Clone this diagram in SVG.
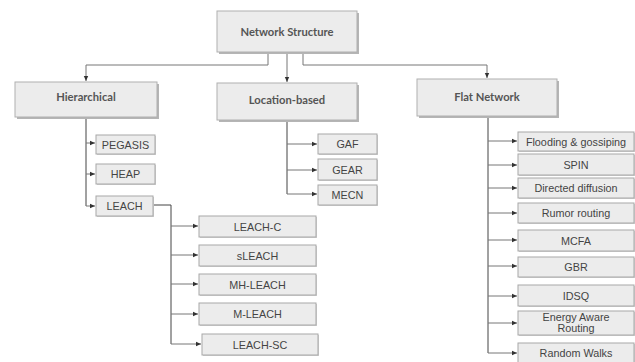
<svg xmlns="http://www.w3.org/2000/svg" width="635" height="362" viewBox="0 0 635 362">
<defs>
<marker id="arr" markerWidth="6" markerHeight="6" refX="5" refY="3" orient="auto" markerUnits="userSpaceOnUse">
<path d="M0,0.8 L5,3 L0,5.2 Z" fill="#333"/>
</marker>
</defs>
<style>
.big rect.sh{fill:#b5b5b5}
.big rect.bx{fill:#ececec;stroke:#b0b0b0;stroke-width:1}
.big text{font-family:Lato,"Open Sans",sans-serif;font-weight:bold;font-size:11.2px;fill:#555;text-anchor:middle}
.sm rect.sh{fill:#d0d0d0}
.sm rect.bx{fill:#ececec;stroke:#a8a8a8;stroke-width:1}
.sm text{font-family:"Liberation Sans",Arial,sans-serif;font-size:10.8px;fill:#444;text-anchor:middle}
.c path{fill:none;stroke:#777;stroke-width:1}
.c path.a{marker-end:url(#arr)}
.c path.d{stroke:#444}
</style>
<rect width="635" height="362" fill="#ffffff"/>

<g class="c" id="connectors">
<path class="a" d="M268,52 V65 H86 V81"/>
<path class="a" d="M287,52 V82"/>
<path class="a" d="M303,52 V65 H487 V78"/>
<path class="d" d="M86,117 V206"/>
<path class="a" d="M86,143 H95"/>
<path class="a" d="M86,174 H95"/>
<path class="a" d="M86,206 H95"/>
<path class="d" d="M153,205 H171 V344"/>
<path class="a" d="M171,226 H198"/>
<path class="a" d="M171,255 H198"/>
<path class="a" d="M171,284 H198"/>
<path class="a" d="M171,314 H198"/>
<path class="a" d="M171,344 H201"/>
<path class="d" d="M287,120 V194"/>
<path class="a" d="M287,144 H317"/>
<path class="a" d="M287,170 H317"/>
<path class="a" d="M287,194 H317"/>
<path class="d" d="M488,116 V353"/>
<path class="a" d="M488,141 H517"/>
<path class="a" d="M488,165 H517"/>
<path class="a" d="M488,188 H517"/>
<path class="a" d="M488,213 H517"/>
<path class="a" d="M488,240 H517"/>
<path class="a" d="M488,266 H517"/>
<path class="a" d="M488,296 H517"/>
<path class="a" d="M488,323 H517"/>
<path class="a" d="M488,353 H517"/>
</g>

<g class="big" id="n-network-structure"><rect class="sh" x="219" y="13" width="140" height="41"/><rect class="bx" x="217" y="11" width="140" height="41"/><text x="287" y="36">Network Structure</text></g>
<g class="big" id="n-hierarchical"><rect class="sh" x="17" y="84" width="142" height="35"/><rect class="bx" x="15" y="82" width="142" height="35"/><text x="86" y="101">Hierarchical</text></g>
<g class="big" id="n-location"><rect class="sh" x="219" y="85" width="140" height="37"/><rect class="bx" x="217" y="83" width="140" height="37"/><text x="287" y="104">Location-based</text></g>
<g class="big" id="n-flat"><rect class="sh" x="419" y="81" width="140" height="37"/><rect class="bx" x="417" y="79" width="140" height="37"/><text x="487" y="101">Flat Network</text></g>

<g class="sm" id="n-pegasis"><rect class="sh" x="97" y="136" width="59" height="19"/><rect class="bx" x="96" y="135" width="59" height="19"/><text x="125.5" y="148.5">PEGASIS</text></g>
<g class="sm" id="n-heap"><rect class="sh" x="97" y="165" width="59" height="20"/><rect class="bx" x="96" y="164" width="59" height="20"/><text x="125.5" y="178">HEAP</text></g>
<g class="sm" id="n-leach"><rect class="sh" x="97" y="197" width="57" height="20"/><rect class="bx" x="96" y="196" width="57" height="20"/><text x="124.5" y="210">LEACH</text></g>

<g class="sm" id="n-leach-c"><rect class="sh" x="200" y="217" width="117" height="21"/><rect class="bx" x="199" y="216" width="117" height="21"/><text x="257.5" y="230.5">LEACH-C</text></g>
<g class="sm" id="n-sleach"><rect class="sh" x="200" y="246" width="117" height="21"/><rect class="bx" x="199" y="245" width="117" height="21"/><text x="257.5" y="259.5">sLEACH</text></g>
<g class="sm" id="n-mh-leach"><rect class="sh" x="200" y="275" width="117" height="21"/><rect class="bx" x="199" y="274" width="117" height="21"/><text x="257.5" y="288.5">MH-LEACH</text></g>
<g class="sm" id="n-m-leach"><rect class="sh" x="200" y="304" width="117" height="22"/><rect class="bx" x="199" y="303" width="117" height="22"/><text x="257.5" y="318">M-LEACH</text></g>
<g class="sm" id="n-leach-sc"><rect class="sh" x="203" y="335" width="116" height="21"/><rect class="bx" x="202" y="334" width="116" height="21"/><text x="260" y="348.5">LEACH-SC</text></g>

<g class="sm" id="n-gaf"><rect class="sh" x="319" y="135" width="59" height="20"/><rect class="bx" x="318" y="134" width="59" height="20"/><text x="347.5" y="148">GAF</text></g>
<g class="sm" id="n-gear"><rect class="sh" x="319" y="160" width="59" height="21"/><rect class="bx" x="318" y="159" width="59" height="21"/><text x="347.5" y="173.5">GEAR</text></g>
<g class="sm" id="n-mecn"><rect class="sh" x="319" y="186" width="59" height="20"/><rect class="bx" x="318" y="185" width="59" height="20"/><text x="347.5" y="199">MECN</text></g>

<g class="sm" id="n-flooding"><rect class="sh" x="519" y="133" width="116" height="19"/><rect class="bx" x="518" y="132" width="116" height="19"/><text x="576" y="145.5">Flooding &amp; gossiping</text></g>
<g class="sm" id="n-spin"><rect class="sh" x="519" y="155" width="116" height="21"/><rect class="bx" x="518" y="154" width="116" height="21"/><text x="576" y="168.5">SPIN</text></g>
<g class="sm" id="n-directed"><rect class="sh" x="519" y="179" width="116" height="20"/><rect class="bx" x="518" y="178" width="116" height="20"/><text x="576" y="192">Directed diffusion</text></g>
<g class="sm" id="n-rumor"><rect class="sh" x="519" y="204" width="116" height="20"/><rect class="bx" x="518" y="203" width="116" height="20"/><text x="576" y="217">Rumor routing</text></g>
<g class="sm" id="n-mcfa"><rect class="sh" x="519" y="231" width="116" height="21"/><rect class="bx" x="518" y="230" width="116" height="21"/><text x="576" y="244.5">MCFA</text></g>
<g class="sm" id="n-gbr"><rect class="sh" x="519" y="258" width="116" height="20"/><rect class="bx" x="518" y="257" width="116" height="20"/><text x="576" y="271">GBR</text></g>
<g class="sm" id="n-idsq"><rect class="sh" x="519" y="286" width="116" height="21"/><rect class="bx" x="518" y="285" width="116" height="21"/><text x="576" y="299.5">IDSQ</text></g>
<g class="sm" id="n-energy"><rect class="sh" x="519" y="312" width="116" height="24"/><rect class="bx" x="518" y="311" width="116" height="24"/><text x="576" y="320.5">Energy Aware</text><text x="576" y="332">Routing</text></g>
<g class="sm" id="n-random"><rect class="sh" x="519" y="344" width="116" height="22"/><rect class="bx" x="518" y="343" width="116" height="22"/><text x="576" y="357">Random Walks</text></g>
</svg>
